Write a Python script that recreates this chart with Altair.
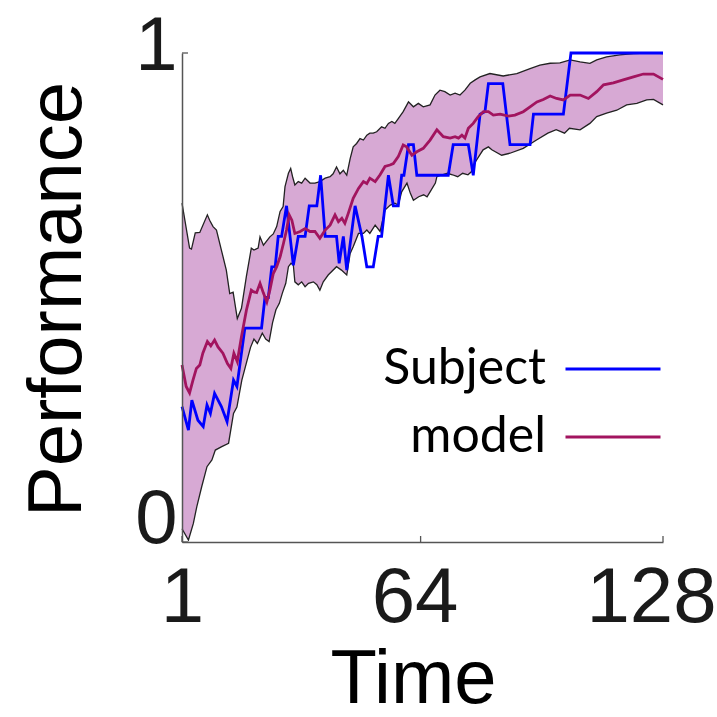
import altair as alt
import pandas as pd

# Upper edge of the model's confidence band
upper_t = [1, 3.0, 3.5, 4.5, 5.7, 7.7, 8.3, 9.2, 10.1, 11.4, 12.7, 13.6, 14.5, 15.6, 16.7,
           18.0, 19.3, 20.0, 21.1, 21.6, 22.5, 24.2, 25.1, 26.0, 26.9, 27.7, 28.2, 29.1,
           29.7, 30.2, 30.8, 31.7, 32.6, 33.5, 34.8, 36.1, 37.4, 38.8, 40.1, 40.9, 41.8,
           42.7, 43.6, 44.5, 45.4, 46.2, 47.1, 48.0, 48.9, 49.8, 50.6, 51.5, 52.4, 53.7,
           54.6, 55.5, 56.4, 57.2, 58.1, 59.4, 60.8, 62.1, 63.4, 64.7, 66.5, 67.8, 69.1,
           70.4, 71.8, 73.1, 74.4, 75.7, 77.1, 78.4, 79.7, 82.3, 85.8, 89.4, 92.9, 95.5,
           98.2, 100.8, 103.5, 106.1, 108.7, 110.5, 113.1, 116.6, 120.2, 123.7, 126.3, 128]
upper_v = [0.693, 0.601, 0.599, 0.632, 0.633, 0.669, 0.658, 0.645, 0.638, 0.597, 0.556,
           0.508, 0.511, 0.457, 0.478, 0.543, 0.601, 0.597, 0.601, 0.624, 0.607, 0.624,
           0.630, 0.645, 0.676, 0.686, 0.727, 0.754, 0.764, 0.747, 0.730, 0.737, 0.734,
           0.744, 0.734, 0.734, 0.737, 0.744, 0.747, 0.753, 0.767, 0.753, 0.760, 0.750,
           0.784, 0.808, 0.815, 0.825, 0.822, 0.832, 0.836, 0.836, 0.839, 0.849, 0.846,
           0.856, 0.860, 0.856, 0.866, 0.880, 0.900, 0.890, 0.897, 0.890, 0.894, 0.914,
           0.924, 0.921, 0.914, 0.918, 0.914, 0.924, 0.938, 0.945, 0.951, 0.958, 0.953,
           0.958, 0.968, 0.975, 0.979, 0.980, 0.986, 0.982, 0.979, 0.986, 0.992, 0.996,
           0.999, 1.0, 1.0, 0.999]

# Lower edge of the band
lower_t = [1, 2.7, 4.0, 4.9, 6.2, 7.6, 8.9, 9.8, 11.5, 13.3, 14.6, 15.5, 16.8, 18.2, 19.1,
           20.0, 20.9, 22.2, 23.1, 24.0, 24.9, 25.8, 26.7, 27.5, 28.4, 29.1, 29.8, 30.4,
           30.8, 31.7, 32.6, 33.5, 34.4, 35.7, 36.6, 37.4, 38.3, 39.6, 41.8, 43.1, 44.5,
           45.4, 46.2, 47.6, 48.9, 49.8, 50.6, 52.0, 53.3, 54.6, 56.0, 57.2, 58.1, 59.0,
           60.4, 61.3, 62.1, 63.5, 64.8, 65.7, 66.5, 67.9, 68.3, 69.7, 71.1, 72.4, 73.8,
           75.1, 76.5, 77.4, 78.2, 79.6, 80.5, 81.9, 82.8, 85.4, 87.6, 91.1, 94.6, 97.6,
           99.8, 102.0, 103.3, 106.1, 108.7, 110.5, 113.1, 115.8, 118.4, 121.1, 123.7,
           125.5, 128]
lower_v = [0.027, 0.004, 0.038, 0.072, 0.113, 0.154, 0.168, 0.188, 0.195, 0.202, 0.263,
           0.276, 0.331, 0.372, 0.398, 0.415, 0.406, 0.427, 0.415, 0.410, 0.448, 0.475,
           0.488, 0.509, 0.529, 0.563, 0.570, 0.566, 0.532, 0.526, 0.532, 0.522, 0.529,
           0.532, 0.526, 0.515, 0.532, 0.546, 0.563, 0.556, 0.546, 0.590, 0.604, 0.631,
           0.631, 0.638, 0.631, 0.648, 0.635, 0.679, 0.689, 0.693, 0.689, 0.716, 0.734,
           0.713, 0.699, 0.706, 0.710, 0.706, 0.716, 0.734, 0.747, 0.751, 0.754, 0.751,
           0.747, 0.754, 0.751, 0.757, 0.774, 0.791, 0.802, 0.808, 0.802, 0.791, 0.795,
           0.805, 0.822, 0.836, 0.843, 0.836, 0.846, 0.843, 0.856, 0.870, 0.877, 0.883,
           0.894, 0.897, 0.904, 0.905, 0.894]

# Model mean performance
model_t = [1, 2.1, 3.0, 3.9, 4.8, 5.7, 6.5, 7.7, 8.6, 9.6, 10.5, 11.8, 13.0, 13.9, 14.7,
           15.6, 16.7, 18.0, 19.3, 19.8, 20.7, 21.6, 22.5, 23.4, 24.2, 25.1, 26.0, 26.9,
           27.8, 28.6, 29.3, 30.0, 30.8, 32.2, 33.5, 34.8, 36.1, 37.4, 38.8, 40.1, 41.4,
           42.3, 43.2, 44.0, 44.9, 46.2, 47.6, 48.9, 49.8, 50.6, 52.0, 53.3, 54.6, 55.9,
           56.8, 58.1, 59.4, 60.3, 61.7, 63.0, 64.7, 66.5, 68.3, 70.0, 71.8, 73.1, 74.0,
           74.9, 75.7, 76.6, 77.9, 79.2, 80.6, 81.9, 83.2, 85.0, 87.2, 88.9, 91.1, 92.9,
           94.7, 96.4, 98.2, 99.9, 101.7, 103.5, 106.1, 108.3, 110.5, 112.3, 114.9, 117.5,
           120.2, 122.8, 125.5, 128]
model_v = [0.362, 0.318, 0.305, 0.331, 0.355, 0.362, 0.386, 0.410, 0.401, 0.413, 0.399,
           0.386, 0.365, 0.355, 0.386, 0.369, 0.420, 0.474, 0.515, 0.512, 0.510, 0.529,
           0.509, 0.491, 0.515, 0.549, 0.563, 0.583, 0.611, 0.638, 0.669, 0.658, 0.631,
           0.635, 0.641, 0.635, 0.635, 0.621, 0.638, 0.648, 0.669, 0.655, 0.662, 0.652,
           0.672, 0.703, 0.723, 0.737, 0.733, 0.744, 0.737, 0.751, 0.768, 0.771, 0.774,
           0.788, 0.812, 0.808, 0.791, 0.798, 0.805, 0.822, 0.843, 0.829, 0.826, 0.829,
           0.826, 0.832, 0.826, 0.846, 0.856, 0.870, 0.880, 0.880, 0.873, 0.875, 0.871,
           0.873, 0.880, 0.890, 0.900, 0.905, 0.912, 0.907, 0.904, 0.914, 0.914, 0.907,
           0.921, 0.935, 0.939, 0.945, 0.951, 0.957, 0.957, 0.946]

# Subject's observed performance
subject_t = [1, 2.7, 3.6, 5.2, 6.6, 7.6, 8.5, 9.6, 11.4, 12.9, 14.6, 15.5, 17.6, 22.0, 22.9,
             23.8, 24.7, 25.6, 26.4, 27.3, 28.6, 30.4, 31.7, 33.5, 34.6, 36.6, 37.6, 38.8,
             41.8, 42.5, 43.6, 44.5, 46.7, 48.5, 49.8, 51.5, 52.8, 53.7, 55.5, 56.8, 58.1,
             59.0, 59.6, 60.8, 62.1, 63.0, 71.3, 72.6, 76.6, 77.9, 79.7, 81.0, 81.9, 85.7,
             87.6, 92.9, 93.8, 101.7, 103.7, 128]
subject_v = [0.277, 0.229, 0.290, 0.249, 0.236, 0.280, 0.263, 0.304, 0.277, 0.246, 0.331,
             0.318, 0.4375, 0.4375, 0.5, 0.5, 0.5625, 0.5625, 0.625, 0.625, 0.6875, 0.566,
             0.625, 0.625, 0.6875, 0.6875, 0.75, 0.625, 0.625, 0.570, 0.625, 0.556, 0.6875,
             0.625, 0.5625, 0.5625, 0.625, 0.625, 0.75, 0.6875, 0.6875, 0.75, 0.75, 0.8125,
             0.8125, 0.75, 0.75, 0.8125, 0.8125, 0.75, 0.875, 0.88, 0.9375, 0.9375, 0.8125,
             0.8125, 0.875, 0.875, 1.0, 1.0]

x_ticks = [1, 64, 128]
y_ticks = [0, 1]
series_names = ["Subject", "model"]
series_colors = ["#0000ff", "#a2145f"]

upper_df = pd.DataFrame({"t": upper_t, "v": upper_v})
lower_df = pd.DataFrame({"t": lower_t, "v": lower_v})
lines_df = pd.concat([
    pd.DataFrame({"t": subject_t, "v": subject_v, "series": "Subject"}),
    pd.DataFrame({"t": model_t, "v": model_v, "series": "model"}),
])
xt_df = pd.DataFrame({"t": x_ticks})
yt_df = pd.DataFrame({"v": y_ticks})

W, H = 481, 489
AXIS_FONT = "Liberation Sans"

x_axis = alt.Axis(
    values=x_ticks, title="Time", ticks=False, grid=False, format="d",
    domainColor="#555555", domainWidth=1.5,
    labelFont=AXIS_FONT, labelFontSize=78, labelColor="#1a1a1a",
    labelBaseline="alphabetic", labelPadding=79, labelFlush=False, labelOverlap=False,
    labelOffset={"condition": [{"test": "datum.value == 128", "value": -12},
                               {"test": "datum.value == 64", "value": -6}],
                 "value": 0},
    titleFont=AXIS_FONT, titleFontSize=76, titleFontWeight="normal", titleColor="black",
    titleX=231, titleY=160, titleAlign="center", titleBaseline="alphabetic", zindex=1,
)
y_axis = alt.Axis(
    values=y_ticks, title="Performance", ticks=False, grid=False, format="d",
    domainColor="#555555", domainWidth=1.5,
    labelFont=AXIS_FONT, labelFontSize=76, labelColor="#1a1a1a", labelPadding=5,
    labelBaseline="alphabetic",
    labelOffset={"condition": {"test": "datum.value == 1", "value": 16}, "value": 0},
    labelFlush=False, labelOverlap=False,
    titleFont=AXIS_FONT, titleFontSize=76, titleFontWeight="normal", titleColor="black",
    titleAngle=-90, titleX=-102, titleY=246, titleAlign="center", titleBaseline="alphabetic",
    zindex=1,
)

x_enc = alt.X("t:Q", scale=alt.Scale(domain=[1, 128], nice=False, zero=False), axis=x_axis)
y_enc = alt.Y("v:Q", scale=alt.Scale(domain=[0, 1], nice=False), axis=y_axis)

band_fill = alt.Chart(upper_df).mark_area(color="#d7a9d4", opacity=1).encode(x=x_enc, y=y_enc)
band_cut = alt.Chart(lower_df).mark_area(color="white", opacity=1).encode(x=x_enc, y=y_enc)
upper_edge = alt.Chart(upper_df).mark_line(color="#222222", strokeWidth=1.3).encode(x=x_enc, y=y_enc)
lower_edge = alt.Chart(lower_df).mark_line(color="#222222", strokeWidth=1.3).encode(x=x_enc, y=y_enc)

lines = alt.Chart(lines_df).mark_line(strokeWidth=2.8).encode(
    x=x_enc, y=y_enc,
    color=alt.Color(
        "series:N",
        scale=alt.Scale(domain=series_names, range=series_colors),
        sort=series_names,
        legend=alt.Legend(
            orient="none", legendX=406, legendY=291, title=None, padding=0,
            symbolType="M-3,0H3", symbolSize=1003, symbolStrokeWidth=3.2,
            labelFont="Lato", labelFontSize=50, labelColor="black",
            labelAlign="right", labelOffset={"expr": "-92"}, labelLimit=0, rowPadding=18,
        ),
    ),
    detail="series:N",
)

x_tick_marks = alt.Chart(xt_df).mark_rule(color="#555555", strokeWidth=1.3).encode(
    x=x_enc, y=alt.value(H), y2=alt.value(H - 6)
)
y_tick_marks = alt.Chart(yt_df).mark_rule(color="#555555", strokeWidth=1.3).encode(
    y=y_enc, x=alt.value(0), x2=alt.value(6)
)

chart = alt.layer(
    band_fill, band_cut, upper_edge, lower_edge, lines, x_tick_marks, y_tick_marks
).properties(
    width=W, height=H,
    autosize=alt.AutoSizeParams(type="none"),
    padding={"left": 182, "top": 53, "right": 54, "bottom": 175},
    background="white",
).configure_view(stroke=None)

chart.save("out.html", embed_options={"renderer": "svg", "actions": False})
